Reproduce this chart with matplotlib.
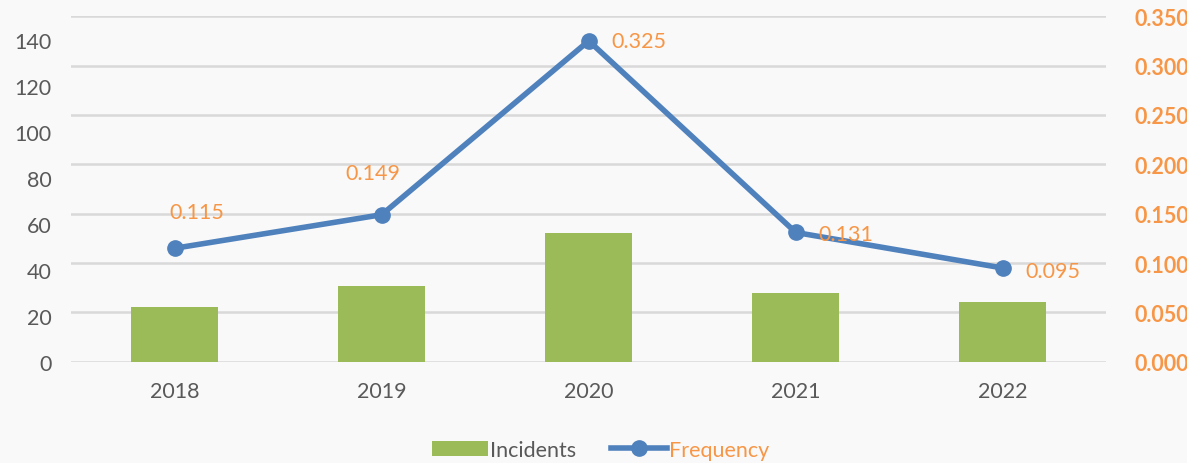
import matplotlib.pyplot as plt
import numpy as np

plt.rcParams['font.family'] = ['Lato', 'DejaVu Sans']

# data
years = ['2018', '2019', '2020', '2021', '2022']
incidents = [24, 33, 56, 30, 26]
frequency = [0.115, 0.149, 0.325, 0.131, 0.095]
freq_labels = ['0.115', '0.149', '0.325', '0.131', '0.095']
label_offsets = [(22, 36), (-9, 42), (50, 0), (50, -2), (50, -3)]  # pixels

green = '#9BBB59'
blue = '#4F81BD'
orange = '#F79646'
gray = '#595959'

fig = plt.figure(figsize=(11.87, 4.64), dpi=100, facecolor='#f9f9f9')
x = np.arange(len(years))

# base axes: only holds the gridlines on the frequency scale
ax = fig.add_axes([0.060, 0.218, 0.872, 0.745])
ax.set_facecolor('none')
ax.set_ylim(0, 0.35)
ax.set_yticks(np.arange(0, 0.351, 0.05))
ax.yaxis.grid(True, color='#d9d9d9', linewidth=1.8)
ax.set_axisbelow(True)
ax.set_xlim(-0.5, len(years) - 0.5)
ax.set_xticks(x)
ax.set_xticklabels(years, fontsize=15.5, color=gray)
for s in ax.spines.values():
    s.set_visible(False)

# bars on the left scale
axb = ax.twinx()
axb.yaxis.tick_left()
bars = axb.bar(x, incidents, width=0.42, color=green, label='Incidents')
axb.set_ylim(0, 150.4)
axb.set_yticks(range(0, 141, 20))
axb.tick_params(axis='y', length=0, labelsize=15.5, labelcolor=gray, pad=14)
for s in axb.spines.values():
    s.set_visible(False)

# frequency line on the right scale
axl = ax.twinx()
line, = axl.plot(x, frequency, color=blue, linewidth=4, marker='o', markersize=11,
                 label='Frequency')
axl.set_ylim(0, 0.35)
axl.set_yticks(np.arange(0, 0.351, 0.05))
axl.set_yticklabels(['%.3f' % v for v in np.arange(0, 0.351, 0.05)])
axl.tick_params(axis='y', length=0, labelsize=15.5, labelcolor=orange, pad=20)
for lab in axl.get_yticklabels():
    lab.set_fontweight('bold')
for s in axl.spines.values():
    s.set_visible(False)

# twinx turns the base ticks back on, so hide them here
ax.tick_params(axis='y', left=False, right=False, labelleft=False, labelright=False)
ax.tick_params(axis='x', length=0, pad=14)

for xi, yi, txt, off in zip(x, frequency, freq_labels, label_offsets):
    axl.annotate(txt, (xi, yi), xytext=off, textcoords='offset pixels',
                 ha='center', va='center', fontsize=15.5, color=orange)

leg = fig.legend([bars, line], ['Incidents', 'Frequency'], loc='lower center',
                 bbox_to_anchor=(0.506, -0.035), ncol=2, frameon=False, fontsize=15.5,
                 handlelength=2.6, handletextpad=0.1, columnspacing=1.6)
leg.get_texts()[0].set_color(gray)
leg.get_texts()[1].set_color(orange)

fig.savefig('out.png', dpi=100, facecolor=fig.get_facecolor())
